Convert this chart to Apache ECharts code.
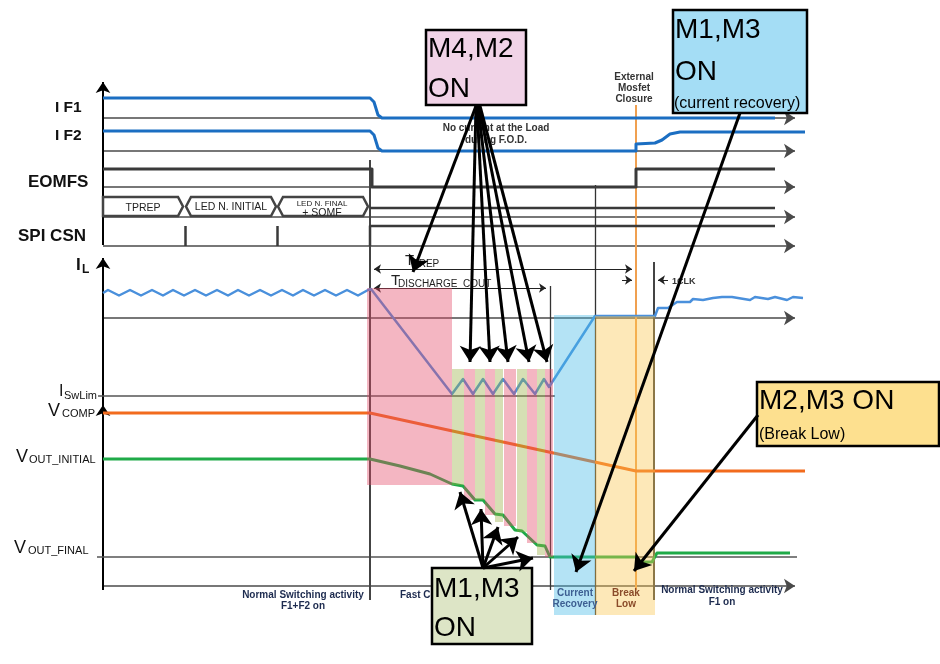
<!DOCTYPE html>
<html><head><meta charset="utf-8">
<script src="https://cdn.jsdelivr.net/npm/echarts@6/dist/echarts.min.js"></script>
<style>html,body{margin:0;padding:0;background:#fff}#c{width:940px;height:664px}</style>
</head><body><div id="c"></div>
<script>
// ---------------- waveform data (diagram units: x = time, y = level, top-down) ----------------
const IF1 = [[103,98],[370,98],[374,102],[378,115],[382,118],[775,118]];
const IF2 = [[103,131],[370,131],[374,135],[378,148],[382,151],[636,151],[636,144],[655,143],[662,140],[670,134],[680,132],[805,132]];
const EOMFS = [[103,169],[372,169],[372,187],[636,187],[636,169],[775,169]];
const SPI_HIGH = [[370,246],[370,226],[775,226]];
const SPI_PULSES = [[185,246,185,226],[277,246,277,226]];
const BUS_IDLE = [[370,208],[775,208]];
const IL = [[103,293],[108,290],[119,295.5],[130,290],[141,295.5],[152,290],[163,295.5],[173,290],[184,295.5],[195,290],[206,295.5],[217,290],[228,295.5],[238,290],[249,295.5],[260,290],[271,295.5],[282,290],[293,295.5],[303,290],[314,295.5],[325,290],[336,295.5],[347,290],[358,295.5],[368,290],[371,289],
  [452,394],[463,379],[473,394],[483,379],[493,394],[503,379],[514,394],[523,379],[535,394],[544,379],[549,387],[595,316],[655,316],[658,308],[668,308],[677,302],[690,302],[693,299],[703,300],[713,298],[722,297],[732,297],[750,300],[755,297],[768,299],[775,297],[787,300],[793,297],[803,298]];
const VCOMP = [[103,413],[370,413],[636,471],[805,471]];
const VOUT = [[103,459],[370,459],[400,466],[430,474],[452,484],[463,486],[475,500],[483,500],[495,514],[503,515],[515,530],[522,531],[537,545],[545,546],[550,557],[636,557],[641,562],[652,562],[657,553],[790,553]];

// bus segments [start, end, label]
const BUS = [[103,183,'TPREP'],[186,276,'LED N. INITIAL'],[278,368,'']];
const BUS_Y = [197,216];

// axes / reference lines
const BASELINES = [118,151,187,217,246,318,586];
const PLAIN_SEGMENTS = [
  [[98,396],[555,396],'ref'],
  [[97,557],[797,557],'ref'],
  [[370,160],[370,600],'vdark'],
  [[550,286],[550,590],'vthin'],
  [[595,185],[595,615],'vthin'],
  [[654,262],[654,600],'vdark'],
  [[636,105],[636,590],'vorange']
];
const AXIS_ARROWS = [[[103,245],[103,82]],[[103,590],[103,258]],[[103,420],[103,405]]];
const DIM_ARROWS_BOTH = [[[374,269],[632,269]],[[374,288],[546,288]]];
const DIM_ARROWS_ONE = [[[622,280],[632,280]],[[668,280],[658,280]]];

// phases [x1, y1, x2, y2, kind]
const PHASES = [
  [367,288,452,485,'pink'],
  [452,369,464,485,'green'],[464,369,475,500,'pink'],[475,369,485,500,'green'],[485,369,495,515,'pink'],
  [495,369,503,522,'green'],[504,369,516,526,'pink'],[517,369,527,532,'green'],[527,369,537,543,'pink'],
  [537,369,545,555,'green'],[545,369,553,557,'pink'],
  [554,315,595,615,'blue'],[595,316,655,615,'yellow']
];

// callout boxes [x1, y1, x2, y2, kind]
const BOXES = [[426,30,526,105,'pink'],[673,10,807,113,'blue'],[757,382,939,446,'yellow'],[432,568,532,644,'green']];
// callout arrows [from, to]
const CALLOUTS = [
  [[476,106],[413,272]],[[476,106],[470,362]],[[477,106],[490,362]],[[478,106],[508,362]],[[479,106],[529,362]],[[480,106],[547,362]],
  [[740,113],[576,572]],
  [[758,415],[634,571]],
  [[483,568],[460,492]],[[483,568],[481,509]],[[483,568],[498,527]],[[483,568],[518,537]],[[483,568],[533,558]]
];

// texts [x, y, text, style, align]
const TEXTS = [
  [55,108,'I F1','sig','left'],[55,136,'I F2','sig','left'],[28,182,'EOMFS','sigL','left'],[18,236,'SPI CSN','sigL','left'],
  [76,265,'I','sigL','left'],[82,270,'L','subB','left'],
  [59,392,'I','main','left'],[64,396,'SwLim','sub','left'],
  [48,411,'V','mainL','left'],[62,414,'COMP','sub','left'],
  [16,457,'V','mainL','left'],[29,460,'OUT_INITIAL','sub','left'],
  [14,548,'V','mainL','left'],[28,551,'OUT_FINAL','sub','left'],
  [143,208,'TPREP','bus','center'],[231,207,'LED N. INITIAL','bus','center'],[322,204,'LED N. FINAL','busS','center'],[322,213,'+ SOMF','bus','center'],
  [634,77,'External','note','center'],[634,88,'Mosfet','note','center'],[634,99,'Closure','note','center'],
  [496,128,'No current at the Load','note','center'],[496,140,'during F.O.D.','note','center'],
  [405,261,'T','dimT','left'],[412,264,'PREP','dimS','left'],
  [391,281,'T','dimT','left'],[398,284,'DISCHARGE_COUT','dimS','left'],
  [672,282,'1CLK','clk','left'],
  [303,595,'Normal Switching activity','foot','center'],[303,606,'F1+F2 on','foot','center'],
  [400,595,'Fast Cout Discharge','foot','left'],
  [575,593,'Current','footBlue','center'],[575,604,'Recovery','footBlue','center'],
  [626,593,'Break','footBrown','center'],[626,604,'Low','footBrown','center'],
  [722,590,'Normal Switching activity','foot','center'],[722,602,'F1 on','foot','center'],
  [428,49,'M4,M2','box','left'],[428,89,'ON','box','left'],
  [675,30,'M1,M3','box','left'],[675,72,'ON','box','left'],[674,104,'(current recovery)','boxS','left'],
  [759,401,'M2,M3 ON','box','left'],[759,435,'(Break Low)','boxS','left'],
  [434,589,'M1,M3','box','left'],[434,628,'ON','box','left']
];

// ---------------- styles ----------------
const FONT = "'Liberation Sans', Arial, sans-serif";
const TXT = {
  sig:{s:15.5,w:'bold',c:'#111'}, sigL:{s:17,w:'bold',c:'#111'}, subB:{s:12,w:'bold',c:'#111'},
  main:{s:16,w:'normal',c:'#111'}, mainL:{s:18,w:'normal',c:'#111'}, sub:{s:11,w:'normal',c:'#111'},
  bus:{s:10.5,w:'normal',c:'#222'}, busS:{s:8,w:'normal',c:'#222'},
  note:{s:10,w:'bold',c:'#333'}, dimT:{s:15,w:'normal',c:'#222'}, dimS:{s:10,w:'normal',c:'#222'},
  clk:{s:9,w:'bold',c:'#333'},
  foot:{s:10,w:'bold',c:'#1d2b4f'}, footBlue:{s:10,w:'bold',c:'#3d5f92'}, footBrown:{s:10,w:'bold',c:'#8a4b2a'},
  box:{s:28,w:'normal',c:'#000'}, boxS:{s:16,w:'normal',c:'#000'}
};
const PHASE_FILL = {pink:'rgba(228,73,103,0.4)', green:'rgba(153,175,68,0.4)', blue:'rgba(68,185,230,0.4)', yellow:'rgba(250,198,78,0.4)'};
const BOX_FILL = {pink:'#f1d3e7', blue:'#a4ddf5', yellow:'#fde08f', green:'#dde5c6'};
const SEG_STYLE = {ref:{c:'#555',w:1.5}, vdark:{c:'#444',w:2}, vthin:{c:'#333',w:1.3}, vorange:{c:'#f0a050',w:2}};

// ---------------- build chart ----------------
const chart = echarts.init(document.getElementById('c'), null, {renderer:'canvas'});

function custom(name, items, z, fn){
  return {type:'custom', name, coordinateSystem:'cartesian2d', z, silent:true, animation:false,
    data: items.map((d,i)=>[0,0,i]), encode:{x:0,y:1},
    renderItem:(params, api)=>fn(items[params.dataIndex], api)};
}
function wave(data, color, width, z){
  return {type:'line', data, symbol:'none', z, silent:true, animation:false,
    lineStyle:{color, width, join:'round'}};
}
function segs(data, color, width, z, sym, size){
  return {type:'lines', coordinateSystem:'cartesian2d', z, silent:true, animation:false,
    data: data.map(c=>({coords:c})), symbol: sym || ['none','none'], symbolSize: size || 10,
    lineStyle:{color, width, opacity:1, curveness:0}, itemStyle:{color}};
}

const series = [];
// phase overlays
series.push(custom('phases', PHASES, 4, (d, api)=>{
  const p1 = api.coord([d[0], d[1]]), p2 = api.coord([d[2], d[3]]);
  return {type:'rect', shape:{x:Math.min(p1[0],p2[0]), y:Math.min(p1[1],p2[1]), width:Math.abs(p2[0]-p1[0]), height:Math.abs(p2[1]-p1[1])},
    style:{fill:PHASE_FILL[d[4]]}};
}));
// baselines with arrows
series.push(segs(BASELINES.map(y=>[[103,y],[795,y]]), '#4a4a4a', 1.5, 1, ['none','arrow'], 11));
series.push(segs(AXIS_ARROWS, '#000', 2, 1, ['none','arrow'], 11));
PLAIN_SEGMENTS.forEach(s=>series.push(segs([[s[0],s[1]]], SEG_STYLE[s[2]].c, SEG_STYLE[s[2]].w, 2)));
series.push(segs(DIM_ARROWS_BOTH, '#222', 1, 2, ['arrow','arrow'], 7));
series.push(segs(DIM_ARROWS_ONE, '#222', 1, 2, ['none','arrow'], 7));
series.push(segs(SPI_PULSES.map(p=>[[p[0],p[1]],[p[2],p[3]]]), '#3a3a3a', 2.5, 2));
// bus
series.push(custom('bus', BUS, 2, (d, api)=>{
  const t = api.coord([d[0], BUS_Y[0]])[1], b = api.coord([d[0], BUS_Y[1]])[1], m = (t+b)/2;
  const x1 = api.coord([d[0], 0])[0], x2 = api.coord([d[1], 0])[0];
  const first = d[0] <= 103;
  const pts = first ? [[x1,t],[x2-5,t],[x2,m],[x2-5,b],[x1,b]] : [[x1,m],[x1+5,t],[x2-5,t],[x2,m],[x2-5,b],[x1+5,b]];
  return {type:'polygon', shape:{points:pts}, style:{fill:'none', stroke:'#444', lineWidth:2.5}};
}));
// digital / analog waveforms
series.push(wave(EOMFS, '#3a3a3a', 3, 2));
series.push(wave(SPI_HIGH, '#3a3a3a', 2.5, 2));
series.push(wave(BUS_IDLE, '#3a3a3a', 2.5, 2));
series.push(wave(IF1, '#1b6ec2', 3, 3));
series.push(wave(IF2, '#1b6ec2', 3, 3));
series.push(wave(IL, '#4a90dc', 2.5, 3));
series.push(wave(VCOMP, '#f26b1d', 3, 3));
series.push(wave(VOUT, '#1faa48', 3, 3));
// texts
series.push(custom('texts', TEXTS.filter(t=>t[3]!=='box'&&t[3]!=='boxS'), 6, (d, api)=>{
  const p = api.coord([d[0], d[1]]); const st = TXT[d[3]];
  return {type:'text', x:p[0], y:p[1], style:{text:d[2], fill:st.c, font: st.w+' '+st.s+'px '+FONT, align:d[4], verticalAlign:'middle'}};
}));
// callout boxes
series.push(custom('boxes', BOXES, 7, (d, api)=>{
  const p1 = api.coord([d[0], d[1]]), p2 = api.coord([d[2], d[3]]);
  return {type:'rect', shape:{x:p1[0], y:p1[1], width:p2[0]-p1[0], height:p2[1]-p1[1]}, style:{fill:BOX_FILL[d[4]], stroke:'#000', lineWidth:2.5}};
}));
series.push(custom('boxTexts', TEXTS.filter(t=>t[3]==='box'||t[3]==='boxS'), 8, (d, api)=>{
  const p = api.coord([d[0], d[1]]); const st = TXT[d[3]];
  return {type:'text', x:p[0], y:p[1], style:{text:d[2], fill:st.c, font: st.w+' '+st.s+'px '+FONT, align:d[4], verticalAlign:'middle'}};
}));
series.push(segs(CALLOUTS, '#000', 3, 9, ['none','arrow'], 16));

chart.setOption({
  animation:false,
  grid:{left:0, right:0, top:0, bottom:0},
  xAxis:{type:'value', min:0, max:940, show:false},
  yAxis:{type:'value', min:0, max:664, inverse:true, show:false},
  series
});
</script></body></html>
